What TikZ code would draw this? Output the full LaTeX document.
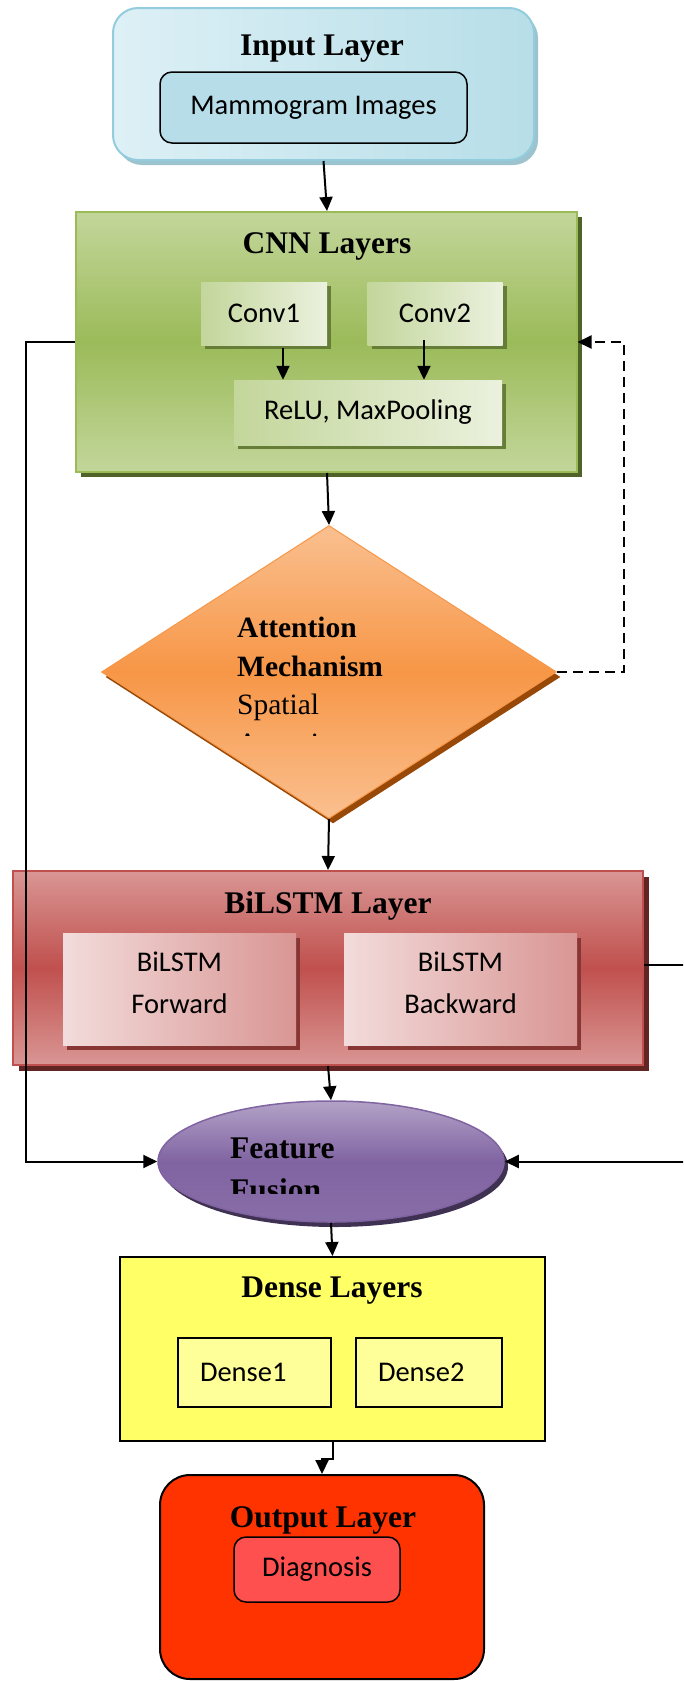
\documentclass[tikz,border=0pt]{standalone}
\usepackage{fontspec}
\setmainfont{Liberation Serif}
\newfontfamily\calibfont{Carlito}
\usetikzlibrary{shapes.geometric, shadows, arrows.meta}
\definecolor{inpreg}{HTML}{B7DEE8}
\definecolor{inplight}{HTML}{DDF0F6}
\definecolor{inpdrk}{HTML}{93CDDD}
\definecolor{inpshd}{HTML}{9CC3CE}
\definecolor{cnnreg}{HTML}{9BBB59}
\definecolor{cnnlight}{HTML}{C3D69B}
\definecolor{cnnpale}{HTML}{EBF1DE}
\definecolor{cnndrk}{HTML}{4F6228}
\definecolor{attreg}{HTML}{F79646}
\definecolor{attlight}{HTML}{FAC090}
\definecolor{attdrk}{HTML}{984807}
\definecolor{lstmreg}{HTML}{C0504D}
\definecolor{lstmlight}{HTML}{D99694}
\definecolor{lstmpale}{HTML}{F2DCDB}
\definecolor{lstmdrk}{HTML}{632523}
\definecolor{fusereg}{HTML}{8064A2}
\definecolor{fuselight}{HTML}{B3A2C7}
\definecolor{fusedrk}{HTML}{3F3151}
\definecolor{densereg}{HTML}{FFFF66}
\definecolor{denselight}{HTML}{FFFF99}
\definecolor{outreg}{HTML}{FF3300}
\definecolor{outlight}{HTML}{FF5050}
\tikzstyle{layerbox} = [rectangle, line width=2pt, inner sep=0pt]
\tikzstyle{subbox} = [rectangle, inner sep=0pt, align=center,
    font=\calibfont\fontsize{28.5}{42}\selectfont]
\tikzstyle{title} = [inner sep=0pt, font=\fontsize{31.5}{36}\selectfont\bfseries]
\tikzstyle{flow} = [line width=2pt, -{Triangle[width=13pt,length=14pt]}]

\begin{document}
\begin{tikzpicture}[x=1pt,y=-1pt]
	\clip (0,0) rectangle (683,1681);

	% input
	\node [layerbox, rounded corners=25pt, draw=inpdrk, left color=inplight, right color=inpreg,
		drop shadow={shadow xshift=4pt, shadow yshift=-5pt, fill=inpshd, opacity=1},
		minimum width=421pt, minimum height=152pt] at (323.5,84) (input) {};
	\node [title] at (322,48.5) (inputtitle) {Input Layer};
	\node [subbox, rounded corners=12pt, draw=black, line width=1.5pt, fill=inpreg,
		minimum width=307pt, minimum height=71pt] at (313.5,107.5) (mammo) {Mammogram Images};

	% cnn
	\node [layerbox, draw=cnnreg, top color=cnnlight, bottom color=cnnlight, middle color=cnnreg,
		drop shadow={shadow xshift=5pt, shadow yshift=-5pt, fill=cnndrk, opacity=1},
		minimum width=501pt, minimum height=260pt] at (326,342) (cnn) {};
	\node [title] at (327,246) (cnntitle) {CNN Layers};
	\node [subbox, left color=cnnlight, right color=cnnpale,
		drop shadow={shadow xshift=4pt, shadow yshift=-4pt, fill=cnndrk!70!cnnreg, opacity=1},
		minimum width=126pt, minimum height=63pt] at (264,313.5) (conv1) {Conv1};
	\node [subbox, left color=cnnlight, right color=cnnpale,
		drop shadow={shadow xshift=4pt, shadow yshift=-4pt, fill=cnndrk!70!cnnreg, opacity=1},
		minimum width=135pt, minimum height=63pt] at (435,313.5) (conv2) {Conv2};
	\node [subbox, left color=cnnlight, right color=cnnpale,
		drop shadow={shadow xshift=4pt, shadow yshift=-4pt, fill=cnndrk!70!cnnreg, opacity=1},
		minimum width=268pt, minimum height=65pt] at (368,412.5) (relu) {ReLU, MaxPooling};

	% attention
	\node [diamond, inner sep=0pt, draw=attreg, line width=1pt,
		top color=attlight, bottom color=attlight, middle color=attreg,
		drop shadow={shadow xshift=4pt, shadow yshift=-5pt, fill=attdrk, opacity=1},
		minimum width=455pt, minimum height=293pt] at (329,672) (att) {};
	\begin{scope}
		\clip (200,600) rectangle (420,735);
		\node [anchor=north west, inner sep=0pt, align=left,
			font=\fontsize{29.5}{38.5}\selectfont] at (237,617) (atttext)
			{\textbf{Attention}\\\textbf{Mechanism}\\Spatial\\Attention};
	\end{scope}

	% bilstm
	\node [layerbox, draw=lstmreg, top color=lstmlight, bottom color=lstmlight, middle color=lstmreg,
		drop shadow={shadow xshift=6pt, shadow yshift=-6pt, fill=lstmdrk, opacity=1},
		minimum width=630pt, minimum height=194pt] at (328,968) (bilstm) {};
	\node [title] at (328,906) (bilstmtitle) {BiLSTM Layer};
	\node [subbox, left color=lstmpale, right color=lstmlight, text depth=12pt,
		drop shadow={shadow xshift=4pt, shadow yshift=-5pt, fill=lstmdrk!60!lstmreg, opacity=1},
		minimum width=233pt, minimum height=112pt] at (179.5,989) (fwd) {BiLSTM\\Forward};
	\node [subbox, left color=lstmpale, right color=lstmlight, text depth=12pt,
		drop shadow={shadow xshift=4pt, shadow yshift=-5pt, fill=lstmdrk!60!lstmreg, opacity=1},
		minimum width=233pt, minimum height=112pt] at (460.5,989) (bwd) {BiLSTM\\Backward};

	% fusion
	\node [ellipse, inner sep=0pt, draw=fusereg, line width=1.5pt,
		top color=fuselight, bottom color=fusereg!85!fuselight, middle color=fusereg,
		drop shadow={shadow xshift=4pt, shadow yshift=-5pt, fill=fusedrk, opacity=1},
		minimum width=346pt, minimum height=121pt] at (331,1161.5) (fuse) {};
	\begin{scope}
		\clip (200,1120) rectangle (460,1193);
		\node [anchor=north west, inner sep=0pt, align=left,
			font=\fontsize{31.5}{42}\selectfont\bfseries] at (230,1138) (fusetext)
			{Feature\\Fusion};
	\end{scope}

	% dense
	\node [layerbox, draw=black, fill=densereg,
		minimum width=425pt, minimum height=184pt] at (332.5,1349) (dense) {};
	\node [title] at (332,1290.5) (densetitle) {Dense Layers};
	\node [subbox, draw=black, line width=1.5pt, fill=denselight, align=left,
		inner xsep=22pt, text width=109pt, minimum height=69pt] at (254.5,1372.5) (dense1) {Dense1};
	\node [subbox, draw=black, line width=1.5pt, fill=denselight, align=left,
		inner xsep=22pt, text width=102pt, minimum height=69pt] at (429,1372.5) (dense2) {Dense2};

	% output
	\node [layerbox, rounded corners=30pt, draw=black, fill=outreg,
		minimum width=324pt, minimum height=204pt] at (322,1577) (out) {};
	\node [title] at (323,1520) (outtitle) {Output Layer};
	\node [subbox, rounded corners=12pt, draw=black, line width=1.5pt, fill=outlight,
		minimum width=166pt, minimum height=65pt] at (317,1569.5) (diag) {Diagnosis};

	% connections
	\draw [flow] (input.south) -- ([xshift=1pt]cnn.north);
	\draw [flow] ([xshift=19pt,yshift=-3pt]conv1.south) -- ([xshift=19pt]conv1.south |- relu.north);
	\draw [flow] ([xshift=-11pt,yshift=5pt]conv2.south) -- ([xshift=-11pt]conv2.south |- relu.north);
	\draw [flow] ([xshift=1pt]cnn.south) -- (att.north);
	\draw [flow, dash pattern=on 10pt off 6pt] (att.east) -- ++(67,0) |- (cnn.east);
	\draw [flow] (att.south) -- (bilstm.north);
	\draw [flow] (cnn.west) -- ++(-48.5,0) |- (fuse.west);
	\draw [flow] ([yshift=3pt]bilstm.east) -- ++(60,0) |- (fuse.east);
	\draw [flow] (bilstm.south) -- (fuse.north);
	\draw [flow] (fuse.south) -- (dense.north);
	\draw [flow] (dense.south) -- ++(0,17) -| (out.north);
\end{tikzpicture}
\end{document}
